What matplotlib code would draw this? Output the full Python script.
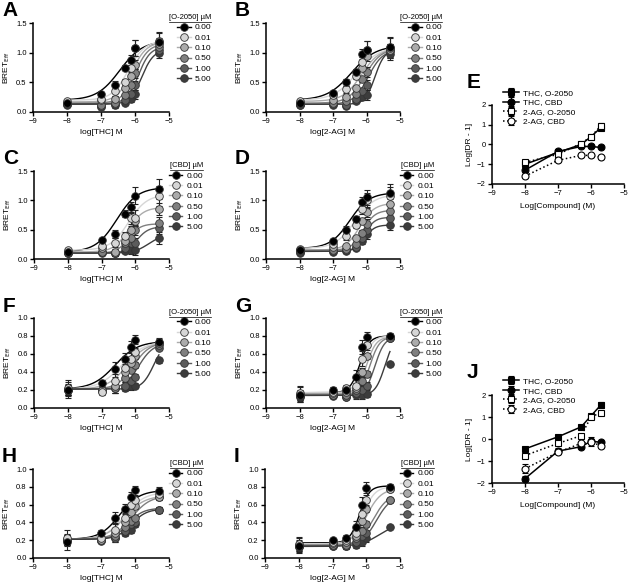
import numpy as np
import matplotlib
matplotlib.use("Agg")
import matplotlib.pyplot as plt
from matplotlib.lines import Line2D

plt.rcParams['font.family'] = ['Liberation Sans', 'DejaVu Sans']

# concentrations of agonist (log M)
log_conc = [-8, -7, -6.6, -6.3, -6.12, -6.0, -5.3]
antag_doses = ['0.00', '0.01', '0.10', '0.50', '1.00', '5.00']
shades = ['#000000', '#d6d6d6', '#ababab', '#808080', '#5c5c5c', '#3c3c3c']

# mean BRET_Eff, one row per antagonist dose
A_mean = [[0.15, 0.30, 0.45, 0.75, 0.88, 1.08, 1.18],
          [0.18, 0.22, 0.35, 0.50, 0.75, 1.08, 1.20],
          [0.15, 0.20, 0.22, 0.40, 0.60, 0.80, 1.15],
          [0.14, 0.12, 0.15, 0.28, 0.45, 0.65, 1.10],
          [0.13, 0.10, 0.13, 0.20, 0.30, 0.45, 1.05],
          [0.12, 0.08, 0.12, 0.15, 0.22, 0.30, 1.00]]
A_err = [0.02, 0.03, 0.08, 0.05, 0.08, 0.13, 0.15]
A_fit = [(0.20, 1.20, -6.45, 1.3), (0.20, 1.20, -6.20, 1.8), (0.17, 1.18, -6.10, 2.0),
         (0.15, 1.15, -6.00, 2.2), (0.14, 1.10, -5.90, 2.5), (0.13, 1.05, -5.80, 2.5)]

B_mean = [[0.15, 0.32, 0.50, 0.68, 0.98, 1.05, 1.10],
          [0.18, 0.28, 0.38, 0.60, 0.85, 1.05, 1.08],
          [0.15, 0.20, 0.25, 0.40, 0.75, 0.95, 1.05],
          [0.14, 0.15, 0.18, 0.30, 0.55, 0.68, 1.05],
          [0.12, 0.13, 0.12, 0.22, 0.35, 0.45, 1.02],
          [0.12, 0.12, 0.10, 0.18, 0.25, 0.28, 0.98]]
B_err = [0.03, 0.04, 0.06, 0.05, 0.08, 0.14, 0.17]
B_fit = [(0.20, 1.12, -6.45, 1.2), (0.20, 1.10, -6.30, 1.3), (0.18, 1.08, -6.15, 1.6),
         (0.15, 1.07, -6.05, 1.8), (0.13, 1.05, -5.95, 2.0), (0.13, 1.05, -5.75, 3.0)]

C_mean = [[0.12, 0.32, 0.43, 0.77, 0.88, 1.08, 1.19],
          [0.15, 0.22, 0.28, 0.40, 0.70, 0.70, 1.07],
          [0.12, 0.18, 0.12, 0.30, 0.50, 0.65, 0.86],
          [0.10, 0.12, 0.10, 0.28, 0.35, 0.50, 0.61],
          [0.10, 0.12, 0.10, 0.18, 0.28, 0.28, 0.52],
          [0.10, 0.10, 0.10, 0.13, 0.15, 0.16, 0.36]]
C_err = [0.03, 0.03, 0.07, 0.06, 0.10, 0.14, 0.17]
C_fit = [(0.12, 1.22, -6.55, 1.4), (0.15, 1.10, -6.20, 1.6), (0.12, 0.88, -6.20, 2.0),
         (0.10, 0.60, -6.20, 2.5), (0.10, 0.55, -5.95, 2.5), (0.10, 0.42, -5.60, 2.0)]

D_mean = [[0.15, 0.30, 0.50, 0.68, 0.98, 1.05, 1.12],
          [0.17, 0.25, 0.40, 0.58, 0.85, 1.00, 1.08],
          [0.15, 0.20, 0.22, 0.35, 0.65, 0.80, 0.93],
          [0.14, 0.16, 0.17, 0.25, 0.45, 0.60, 0.82],
          [0.12, 0.13, 0.15, 0.20, 0.35, 0.50, 0.70],
          [0.10, 0.12, 0.14, 0.18, 0.30, 0.42, 0.58]]
D_err = [0.03, 0.04, 0.07, 0.05, 0.08, 0.13, 0.15]
D_fit = [(0.18, 1.13, -6.50, 1.5), (0.18, 1.10, -6.35, 1.5), (0.15, 0.95, -6.20, 2.0),
         (0.15, 0.83, -6.10, 2.5), (0.13, 0.71, -6.05, 3.0), (0.13, 0.58, -6.05, 3.0)]

F_mean = [[0.20, 0.28, 0.43, 0.55, 0.68, 0.76, 0.73],
          [0.22, 0.18, 0.30, 0.45, 0.55, 0.62, 0.72],
          [0.21, 0.20, 0.25, 0.40, 0.50, 0.58, 0.72],
          [0.20, 0.20, 0.22, 0.33, 0.42, 0.48, 0.70],
          [0.20, 0.19, 0.22, 0.25, 0.30, 0.35, 0.67],
          [0.20, 0.19, 0.22, 0.22, 0.24, 0.25, 0.53]]
F_err = [0.09, 0.03, 0.08, 0.06, 0.06, 0.05, 0.05]
F_fit = [(0.21, 0.74, -6.60, 1.3), (0.21, 0.74, -6.40, 1.3), (0.21, 0.73, -6.25, 1.5),
         (0.21, 0.73, -6.05, 1.8), (0.21, 0.72, -5.90, 2.0), (0.21, 0.75, -5.45, 2.5)]

G_mean = [[0.15, 0.20, 0.20, 0.35, 0.68, 0.79, 0.80],
          [0.17, 0.18, 0.22, 0.25, 0.55, 0.70, 0.79],
          [0.15, 0.17, 0.18, 0.22, 0.40, 0.58, 0.78],
          [0.14, 0.15, 0.15, 0.20, 0.30, 0.38, 0.78],
          [0.13, 0.14, 0.12, 0.17, 0.20, 0.25, 0.78],
          [0.12, 0.13, 0.12, 0.14, 0.15, 0.16, 0.49]]
G_err = [0.08, 0.03, 0.04, 0.07, 0.08, 0.06, 0.03]
G_fit = [(0.17, 0.80, -6.20, 3.0), (0.17, 0.80, -6.10, 3.0), (0.16, 0.79, -6.00, 3.0),
         (0.15, 0.79, -5.90, 3.0), (0.14, 0.79, -5.75, 3.0), (0.14, 0.80, -5.45, 3.0)]

H_mean = [[0.18, 0.28, 0.45, 0.55, 0.68, 0.76, 0.75],
          [0.22, 0.22, 0.32, 0.45, 0.60, 0.65, 0.72],
          [0.21, 0.20, 0.28, 0.40, 0.52, 0.58, 0.68],
          [0.20, 0.20, 0.25, 0.35, 0.42, 0.45, 0.68],
          [0.20, 0.20, 0.22, 0.30, 0.38, 0.40, 0.54],
          [0.20, 0.19, 0.22, 0.28, 0.32, 0.38, 0.54]]
H_err = [0.09, 0.03, 0.07, 0.06, 0.06, 0.05, 0.05]
H_fit = [(0.21, 0.76, -6.45, 1.5), (0.21, 0.74, -6.30, 1.5), (0.21, 0.70, -6.30, 1.5),
         (0.21, 0.70, -6.10, 1.6), (0.21, 0.56, -6.20, 2.0), (0.21, 0.55, -6.10, 2.0)]

I_mean = [[0.14, 0.20, 0.22, 0.35, 0.60, 0.79, 0.80],
          [0.16, 0.18, 0.20, 0.28, 0.50, 0.65, 0.78],
          [0.15, 0.17, 0.18, 0.25, 0.42, 0.55, 0.77],
          [0.14, 0.15, 0.15, 0.22, 0.30, 0.38, 0.65],
          [0.13, 0.14, 0.13, 0.18, 0.25, 0.28, 0.65],
          [0.12, 0.13, 0.13, 0.15, 0.18, 0.22, 0.35]]
I_err = [0.08, 0.03, 0.04, 0.07, 0.08, 0.06, 0.03]
I_fit = [(0.17, 0.81, -6.20, 3.0), (0.16, 0.80, -6.10, 2.5), (0.15, 0.78, -6.00, 2.0),
         (0.14, 0.72, -5.80, 2.0), (0.14, 0.70, -5.70, 2.0), (0.13, 0.40, -5.60, 1.5)]

# Schild-type analysis (E, J)
antag_log = [-8, -7, -6.3, -6.0, -5.7]
schild_labels = ['THC, O-2050', 'THC, CBD', '2-AG, O-2050', '2-AG, CBD']
E_vals = [[-1.00, -0.40, 0.00, 0.40, 0.85],
          [-1.30, -0.35, -0.10, -0.10, -0.15],
          [-0.90, -0.50, 0.05, 0.40, 0.95],
          [-1.60, -0.80, -0.55, -0.55, -0.65]]
E_errs = [[0.10, 0.10, 0.08, 0.08, 0.10],
          [0.10, 0.08, 0.06, 0.06, 0.05],
          [0.12, 0.10, 0.08, 0.08, 0.12],
          [0.12, 0.10, 0.06, 0.06, 0.06]]
J_vals = [[-0.45, 0.10, 0.55, 1.05, 1.55],
          [-1.80, -0.55, -0.35, -0.10, -0.15],
          [-0.75, -0.20, 0.15, 1.00, 1.20],
          [-1.35, -0.60, -0.20, -0.15, -0.30]]
J_errs = [[0.08, 0.08, 0.06, 0.10, 0.12],
          [0.10, 0.15, 0.08, 0.20, 0.08],
          [0.10, 0.08, 0.06, 0.08, 0.08],
          [0.20, 0.10, 0.06, 0.08, 0.12]]

panels = [
    ('A', [33, 23, 169, 112], A_mean, A_err, A_fit, 'log[THC] M', '[O-2050] µM', 1.5),
    ('B', [266, 23, 400, 112], B_mean, B_err, B_fit, 'log[2-AG] M', '[O-2050] µM', 1.5),
    ('C', [34, 171, 169, 259], C_mean, C_err, C_fit, 'log[THC] M', '[CBD] µM', 1.5),
    ('D', [266, 171, 400, 259], D_mean, D_err, D_fit, 'log[2-AG] M', '[CBD] µM', 1.5),
    ('F', [34, 318, 169, 408], F_mean, F_err, F_fit, 'log[THC] M', '[O-2050] µM', 1.0),
    ('G', [266, 318, 400, 408], G_mean, G_err, G_fit, 'log[2-AG] M', '[O-2050] µM', 1.0),
    ('H', [33, 469, 169, 558], H_mean, H_err, H_fit, 'log[THC] M', '[CBD] µM', 1.0),
    ('I', [265, 469, 400, 558], I_mean, I_err, I_fit, 'log[2-AG] M', '[CBD] µM', 1.0),
]

W, H = 630, 583
fig = plt.figure(figsize=(W / 100, H / 100), dpi=100)


def px_axes(box):
    x0, y0, x1, y1 = box
    return fig.add_axes([x0 / W, 1 - y1 / H, (x1 - x0) / W, (y1 - y0) / H])


def style_axes(ax):
    for s in ['top', 'right']:
        ax.spines[s].set_visible(False)
    for s in ['left', 'bottom']:
        ax.spines[s].set_linewidth(1.1)
    ax.tick_params(width=1.0, length=3, labelsize=5.5, pad=1.5)


def logistic(x, bottom, top, logec50, hill):
    return bottom + (top - bottom) / (1 + 10 ** ((logec50 - x) * hill))


xs = np.linspace(-8, -5.3, 200)
legends = []

for letter, box, mean, err, fits, xlabel, title, ymax in panels:
    ax = px_axes(box)
    style_axes(ax)
    handles = []
    for i in range(len(antag_doses)):
        col = shades[i]
        ax.plot(xs, logistic(xs, *fits[i]), color=col, lw=1.0, zorder=2)
        e = np.array(err) * (1 if i in (0, 1) else 0.6)
        ax.errorbar(log_conc, mean[i], yerr=e, fmt='none', ecolor='#222222',
                    elinewidth=0.8, capsize=2, capthick=0.8, zorder=3)
        ax.plot(log_conc, mean[i], 'o', ms=5.5, mfc=col, mec='#333333',
                mew=0.6, zorder=4 + (5 - i))
        h, = ax.plot([], [], '-o', color=col, ms=5.5, mfc=col, mec='#333333',
                     mew=0.6, lw=1.0)
        handles.append(h)
    ax.set_xlim(-9, -5)
    ax.set_ylim(0, ymax)
    ax.set_xticks([-9, -8, -7, -6, -5])
    if ymax == 1.5:
        ax.set_yticks([0, 0.5, 1.0, 1.5])
    else:
        ax.set_yticks([0, 0.2, 0.4, 0.6, 0.8, 1.0])
    ax.yaxis.set_major_formatter(matplotlib.ticker.FormatStrFormatter('%.1f'))
    ax.set_xlabel(xlabel, fontsize=6, labelpad=3)
    ax.set_ylabel(r'BRET$_{\mathrm{Eff}}$', fontsize=6, labelpad=3)
    leg = ax.legend(handles, antag_doses, loc='upper left', bbox_to_anchor=(1.0, 1.1),
                    frameon=False, fontsize=6, title=title, title_fontsize=5.5,
                    handlelength=1.6, handletextpad=0.5, labelspacing=0.3,
                    borderaxespad=0, borderpad=0)
    leg._legend_box.align = 'right'
    legends.append(leg)
    fig.text((box[0] - 31) / W, 1 - (box[1] - 12) / H, letter, fontsize=15,
             fontweight='bold', va='center', ha='left')

schild = [('E', [492, 105, 624, 184], E_vals, E_errs),
          ('J', [492, 395, 624, 483], J_vals, J_errs)]
styles = [dict(marker='s', ls='-', mfc='black'),
          dict(marker='o', ls='-', mfc='black'),
          dict(marker='s', ls=':', mfc='white'),
          dict(marker='o', ls=':', mfc='white')]

for letter, box, vals, errs in schild:
    ax = px_axes(box)
    style_axes(ax)
    for i, lab in enumerate(schild_labels):
        st = styles[i]
        ax.errorbar(antag_log, vals[i], yerr=errs[i], color='black', ls=st['ls'],
                    lw=1.1, marker=st['marker'], ms=5, mfc=st['mfc'], mec='black',
                    mew=0.8, capsize=2, elinewidth=0.8, label=lab)
    ax.set_xlim(-9, -5)
    ax.set_ylim(-2, 2)
    ax.set_xticks([-9, -8, -7, -6, -5])
    ax.set_yticks([-2, -1, 0, 1, 2])
    ax.set_xlabel('Log[Compound] (M)', fontsize=6, labelpad=4)
    ax.set_ylabel('Log[DR - 1]', fontsize=6, labelpad=3)
    ax.legend(loc='upper left', bbox_to_anchor=(0.08, 1.2), frameon=False,
              fontsize=6, handlelength=2.0, handletextpad=0.5, labelspacing=0.2,
              borderaxespad=0, borderpad=0)
    fig.text((box[0] - 25) / W, 1 - (box[1] - 22) / H, letter, fontsize=15,
             fontweight='bold', va='center', ha='left')

# underline the legend titles
fig.canvas.draw()
for leg in legends:
    bb = leg.get_title().get_window_extent()
    y = bb.y0 - 0.5
    fig.add_artist(Line2D([bb.x0 / W, bb.x1 / W], [y / H, y / H], color='black',
                          lw=0.5, transform=fig.transFigure))

fig.savefig('out.png', dpi=100)
